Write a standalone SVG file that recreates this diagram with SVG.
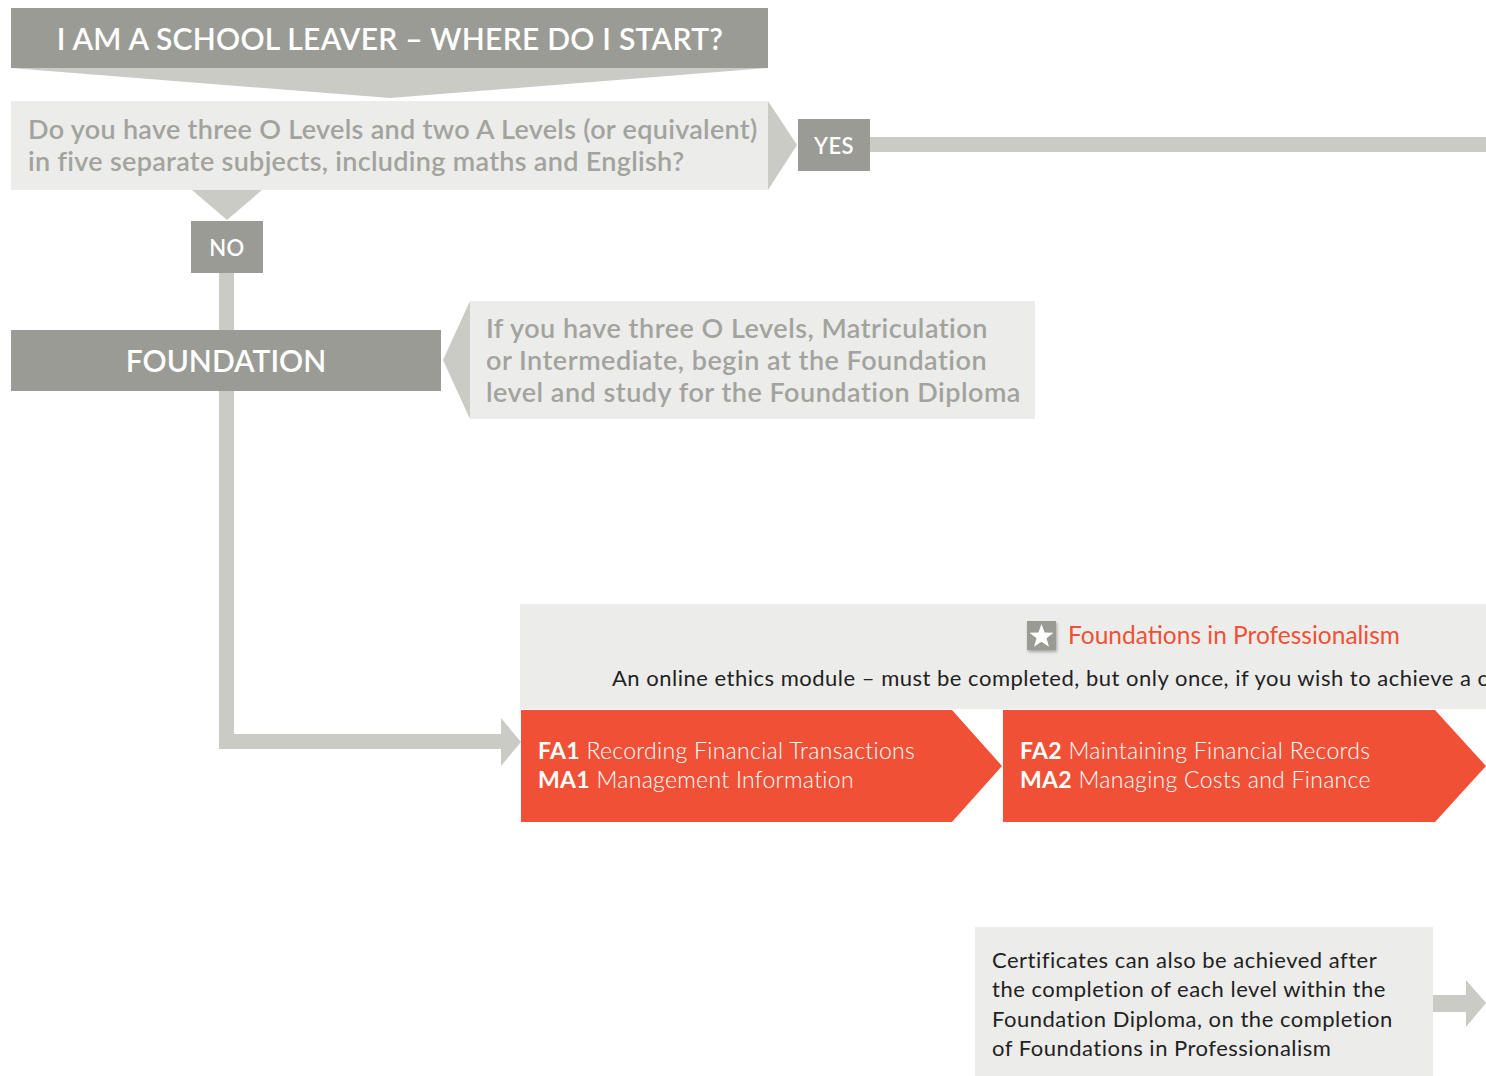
<svg xmlns="http://www.w3.org/2000/svg" width="1486" height="1076" viewBox="0 0 1486 1076">
<defs>
<style>
.dark{fill:#9b9b96}
.conn{fill:#cbcbc6}
.pale{fill:#ececea}
.red{fill:#f05136}
.f{font-family:Lato,"Liberation Sans",sans-serif}
.wt{fill:#ffffff;font-weight:600}
.qt{fill:#a3a39e;font-weight:600;font-size:27px}
.bt{fill:#222222;font-size:22px;font-weight:400;letter-spacing:0.5px}
.rt{fill:#ffffff;font-size:23px;font-weight:300;letter-spacing:0.3px}
.rt tspan.b{font-weight:700}
</style>
<filter id="sh" x="-30%" y="-30%" width="160%" height="160%"><feDropShadow dx="1" dy="2" stdDeviation="1.5" flood-color="#000" flood-opacity="0.3"/></filter>
</defs>
<rect width="1486" height="1076" fill="#ffffff"/>

<g id="connectors">
<polygon class="conn" points="11,68 768,68 390,98"/>
<polygon class="conn" points="768,101 797,145 768,190"/>
<rect class="conn" x="870" y="137" width="616" height="15"/>
<polygon class="conn" points="192,190 262,190 227,220"/>
<rect class="conn" x="219" y="273" width="15" height="476"/>
<rect class="conn" x="219" y="734" width="283" height="15"/>
<polygon class="conn" points="501,718 521,742 501,766"/>
<polygon class="conn" points="470,301 443,360 470,419"/>
<rect class="conn" x="1433" y="995" width="34" height="17"/>
<polygon class="conn" points="1466,980 1486,1003 1466,1027"/>
</g>

<g id="title">
<rect class="dark" x="11" y="8" width="757" height="60"/>
<text class="f wt" x="390" y="50" font-size="30" letter-spacing="0.25" text-anchor="middle">I AM A SCHOOL LEAVER – WHERE DO I START?</text>
</g>

<g id="question">
<rect class="pale" x="11" y="101" width="757" height="89"/>
<text class="f qt" x="28" y="139" letter-spacing="0.3">Do you have three O Levels and two A Levels (or equivalent)</text>
<text class="f qt" x="28" y="171" letter-spacing="0.3">in five separate subjects, including maths and English?</text>
</g>

<g id="yes">
<rect class="dark" x="798" y="119" width="72" height="52"/>
<text class="f wt" x="834" y="154" font-size="22" letter-spacing="0.5" text-anchor="middle">YES</text>
</g>

<g id="no">
<rect class="dark" x="191" y="221" width="72" height="52"/>
<text class="f wt" x="227" y="256" font-size="22" letter-spacing="0.5" text-anchor="middle">NO</text>
</g>

<g id="foundation">
<rect class="dark" x="11" y="330" width="430" height="61"/>
<text class="f wt" x="226" y="372" font-size="30" text-anchor="middle">FOUNDATION</text>
</g>

<g id="info">
<rect class="pale" x="470" y="301" width="565" height="118"/>
<text class="f qt" x="486" y="338" letter-spacing="0.5">If you have three O Levels, Matriculation</text>
<text class="f qt" x="486" y="370" letter-spacing="0.5">or Intermediate, begin at the Foundation</text>
<text class="f qt" x="486" y="402" letter-spacing="0.5">level and study for the Foundation Diploma</text>
</g>

<g id="ethics">
<rect class="pale" x="520" y="604" width="966" height="105"/>
<rect class="dark" x="1027" y="621" width="29" height="29" filter="url(#sh)"/>
<polygon fill="#ffffff" points="1041.5,624 1044.6,632.5 1053.5,632.7 1046.5,638.2 1049,646.8 1041.5,641.7 1034,646.8 1036.5,638.2 1029.5,632.7 1038.4,632.5"/>
<text class="f" x="1068" y="644" font-size="24.5" fill="#f05136">Foundations in Professionalism</text>
<text class="f bt" x="612" y="686">An online ethics module – must be completed, but only once, if you wish to achieve a c</text>
</g>

<g id="level1">
<polygon class="red" points="521,710 952,710 1002,766 952,822 521,822"/>
<text class="f rt" x="538" y="759"><tspan class="b">FA1</tspan> Recording Financial Transactions</text>
<text class="f rt" x="538" y="788"><tspan class="b">MA1</tspan> Management Information</text>
</g>

<g id="level2">
<polygon class="red" points="1003,710 1435,710 1486,766 1435,822 1003,822"/>
<text class="f rt" x="1020" y="759"><tspan class="b">FA2</tspan> Maintaining Financial Records</text>
<text class="f rt" x="1020" y="788"><tspan class="b">MA2</tspan> Managing Costs and Finance</text>
</g>

<g id="certificates">
<rect class="pale" x="975" y="927" width="458" height="149"/>
<text class="f bt" x="992" y="968">Certificates can also be achieved after</text>
<text class="f bt" x="992" y="997">the completion of each level within the</text>
<text class="f bt" x="992" y="1027">Foundation Diploma, on the completion</text>
<text class="f bt" x="992" y="1056">of Foundations in Professionalism</text>
</g>
</svg>
